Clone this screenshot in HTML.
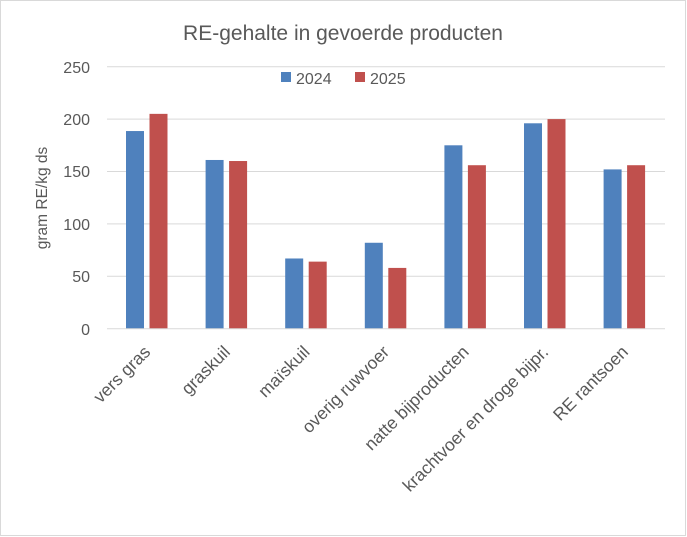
<!DOCTYPE html>
<html><head><style>
html,body{margin:0;padding:0;background:#fff;}
svg{display:block;font-family:"Liberation Sans",sans-serif;}
</style></head><body>
<svg width="687" height="537" viewBox="0 0 687 537">
<rect x="0.5" y="0.5" width="685" height="535" fill="#fff" stroke="#d9d9d9"/>
<text x="343" y="40" text-anchor="middle" font-size="21" fill="#595959">RE-gehalte in gevoerde producten</text>
<g stroke="#d9d9d9" stroke-width="1">
<line x1="107" x2="665" y1="66.7" y2="66.7"/>
<line x1="107" x2="665" y1="119.1" y2="119.1"/>
<line x1="107" x2="665" y1="171.5" y2="171.5"/>
<line x1="107" x2="665" y1="223.9" y2="223.9"/>
<line x1="107" x2="665" y1="276.3" y2="276.3"/>
</g>
<g font-size="16" fill="#595959" text-anchor="end">
<text x="90" y="73">250</text><text x="90" y="125">200</text><text x="90" y="177">150</text>
<text x="90" y="230">100</text><text x="90" y="282">50</text><text x="90" y="335">0</text>
</g>
<text transform="translate(47,198) rotate(-90)" text-anchor="middle" font-size="15.5" fill="#595959">gram RE/kg ds</text>
<rect x="281" y="72" width="10" height="10" fill="#4f81bd"/>
<text x="296" y="84" font-size="16" fill="#595959">2024</text>
<rect x="355" y="72" width="10" height="10" fill="#c0504d"/>
<text x="370" y="84" font-size="16" fill="#595959">2025</text>
<g id="bars"></g>
<line x1="107" x2="665" y1="328.7" y2="328.7" stroke="#d9d9d9"/>
<g id="labels" font-size="17.5" fill="#595959" text-anchor="end"></g>
<script>
var b=[188.6,161,67,82,175,196,152],r=[205,160,64,58,156,200,156];
var names=["vers gras","graskuil","maïskuil","overig ruwvoer","natte bijproducten","krachtvoer en droge bijpr.","RE rantsoen"];
var g=document.getElementById("bars"),L=document.getElementById("labels"),ns="http://www.w3.org/2000/svg";
function rect(x,v,c){var e=document.createElementNS(ns,"rect");var h=v*1.048;e.setAttribute("x",x);e.setAttribute("y",328.7-h);e.setAttribute("width",18);e.setAttribute("height",h);e.setAttribute("fill",c);g.appendChild(e);}
for(var i=0;i<7;i++){var x=126+i*79.6;rect(x,b[i],"#4f81bd");rect(x+23.5,r[i],"#c0504d");
var cx=x+20.5;var t=document.createElementNS(ns,"text");t.setAttribute("transform","translate("+(cx+5)+",353) rotate(-45)");t.textContent=names[i];L.appendChild(t);}
</script>
</svg>
</body></html>
